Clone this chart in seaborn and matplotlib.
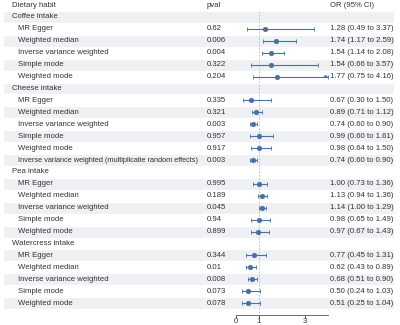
import pandas as pd
import matplotlib
matplotlib.use("Agg")
import matplotlib.pyplot as plt
import seaborn as sns

groups = ["Coffee intake", "Cheese intake", "Pea intake", "Watercress intake"]
methods = [
    ["MR Egger", "Weighted median", "Inverse variance weighted", "Simple mode", "Weighted mode"],
    ["MR Egger", "Weighted median", "Inverse variance weighted", "Simple mode", "Weighted mode",
     "Inverse variance weighted (multiplicatie random effects)"],
    ["MR Egger", "Weighted median", "Inverse variance weighted", "Simple mode", "Weighted mode"],
    ["MR Egger", "Weighted median", "Inverse variance weighted", "Simple mode", "Weighted mode"],
]
pvals = [
    ["0.62", "0.006", "0.004", "0.322", "0.204"],
    ["0.335", "0.321", "0.003", "0.957", "0.917", "0.003"],
    ["0.995", "0.189", "0.045", "0.94", "0.899"],
    ["0.344", "0.01", "0.008", "0.073", "0.078"],
]
odds = [
    [1.28, 1.74, 1.54, 1.54, 1.77],
    [0.67, 0.89, 0.74, 0.99, 0.98, 0.74],
    [1.00, 1.13, 1.14, 0.98, 0.97],
    [0.77, 0.62, 0.68, 0.50, 0.51],
]
lower = [
    [0.49, 1.17, 1.14, 0.66, 0.75],
    [0.30, 0.71, 0.60, 0.60, 0.64, 0.60],
    [0.73, 0.94, 1.00, 0.65, 0.67],
    [0.45, 0.43, 0.51, 0.24, 0.25],
]
upper = [
    [3.37, 2.59, 2.08, 3.57, 4.16],
    [1.50, 1.12, 0.90, 1.61, 1.50, 0.90],
    [1.36, 1.36, 1.29, 1.49, 1.43],
    [1.31, 0.89, 0.90, 1.03, 1.04],
]

# flatten into one table, one row per line of the plot
recs = []
row = 1
for g, grp in enumerate(groups):
    recs.append(dict(row=row, label=grp, kind="group"))
    row += 1
    for m in range(len(methods[g])):
        recs.append(dict(row=row, label=methods[g][m], kind="method", pval=pvals[g][m],
                         OR=odds[g][m], lo=lower[g][m], hi=upper[g][m]))
        row += 1
df = pd.DataFrame(recs)
est = df[df.kind == "method"].copy()
nrows = row

sns.set_style("white")
plt.rcParams["font.family"] = ["Liberation Sans", "DejaVu Sans"]
txt = "#333333"
blue = "#4a6fa5"
fs = 5.6

fig = plt.figure(figsize=(4, 3.25), dpi=100)
bot = 10 / 325
top_pad = 5 / 11.9
bg = fig.add_axes([0, bot, 1, 1 - bot])
bg.set_xlim(0, 400)
bg.set_ylim(nrows, -top_pad)
bg.axis("off")

# zebra stripes
stripe = [r for r in range(nrows) if r % 2 == 1]
bg.barh(stripe, 391, left=3, height=1, color="#eef0f4", zorder=0)

# headers
bg.text(12, 0, "Dietary habit", fontsize=fs, color=txt, va="center")
bg.text(207, 0, "pval", fontsize=fs, color=txt, va="center")
bg.text(330, 0, "OR (95% CI)", fontsize=fs, color=txt, va="center")

for _, r in df.iterrows():
    if r.kind == "group":
        bg.text(12, r.row, r.label, fontsize=fs, color=txt, va="center")
    else:
        # the long label would run into the pval column
        lfs = fs if len(r.label) < 40 else 5.35
        bg.text(18, r.row, r.label, fontsize=lfs, color=txt, va="center")
        bg.text(207, r.row, r.pval, fontsize=fs, color=txt, va="center")
        bg.text(330, r.row, f"{r.OR:.2f} ({r.lo:.2f} to {r.hi:.2f})",
                fontsize=fs, color=txt, va="center")

# forest panel
ax = fig.add_axes([236 / 400, bot, 92 / 400, 1 - bot], facecolor="none")
ax.set_xlim(0, 4)
ax.set_ylim(nrows, -top_pad)
ax.vlines(1, 0.5, nrows, color="#b8b8b8", lw=0.6, ls=(0, (2, 2)), zorder=1)

hi_clip = est.hi.clip(upper=4)
ax.errorbar(est.OR, est.row, xerr=[est.OR - est.lo, hi_clip - est.OR], fmt="none",
            ecolor=blue, elinewidth=0.8, capsize=1.5, capthick=0.6, zorder=2)
sns.scatterplot(data=est, x="OR", y="row", ax=ax, color=blue, s=12,
                edgecolor=blue, linewidth=0.3, zorder=3, legend=False)
over = est[est.hi > 4]
for _, r in over.iterrows():
    ax.annotate("", xy=(4.0, r.row), xytext=(3.85, r.row),
                arrowprops=dict(arrowstyle="-|>", color=blue, lw=0.6,
                                mutation_scale=4, shrinkA=0, shrinkB=0))

sns.despine(ax=ax, left=True, top=True, right=True)
ax.spines["bottom"].set_color("#555555")
ax.spines["bottom"].set_linewidth(0.6)
ax.set_yticks([])
ax.set_xticks([0, 1, 3])
ax.set_xticklabels(["0", "1", "3"])
ax.tick_params(axis="x", labelsize=fs, colors=txt, length=2, width=0.6, pad=0.5,
               bottom=True)
ax.set_xlabel("")
ax.set_ylabel("")

fig.savefig("out.png", dpi=100)
